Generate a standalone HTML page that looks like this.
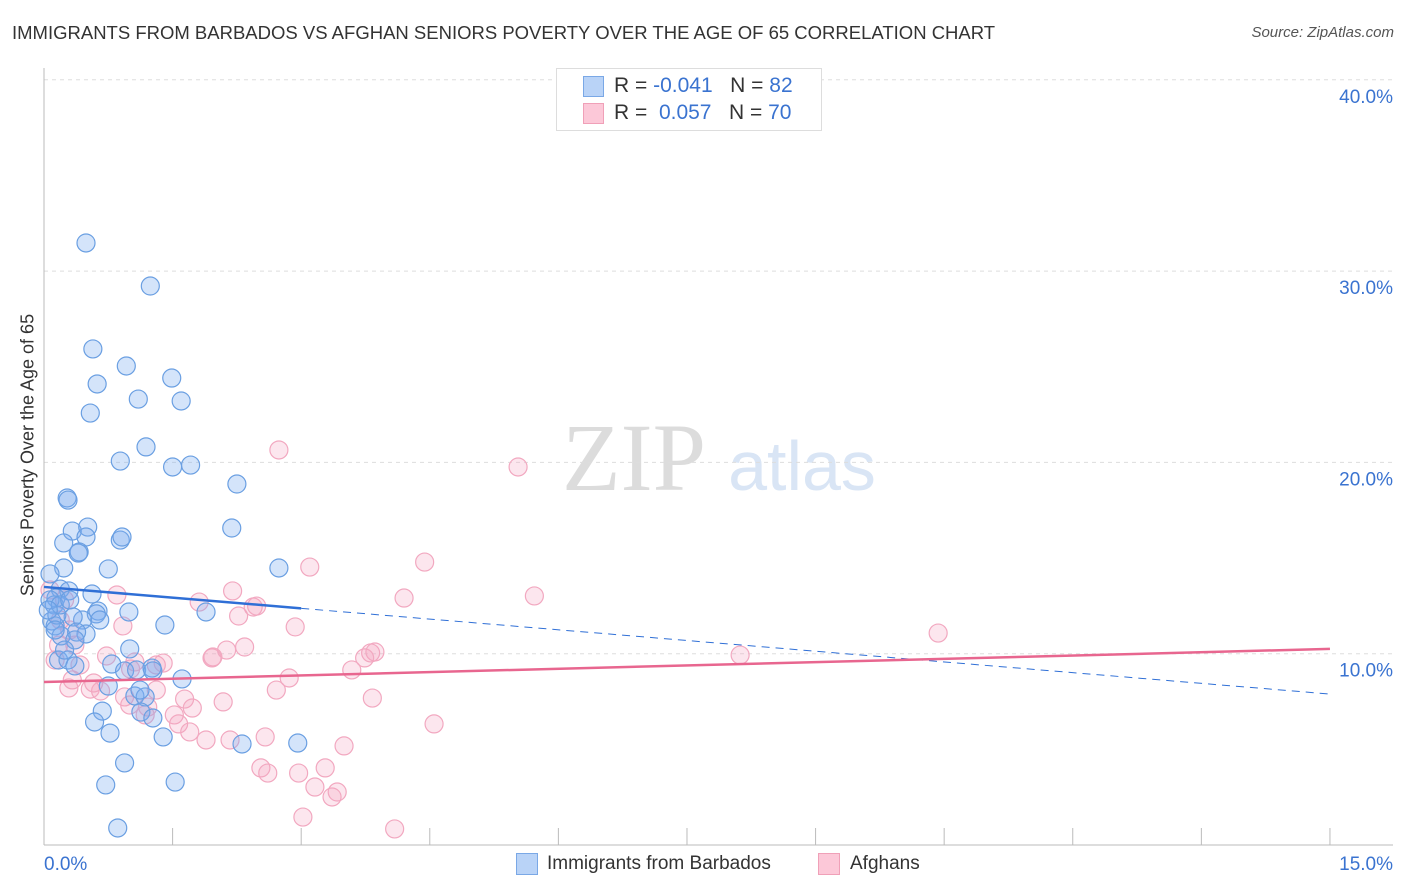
<!DOCTYPE html>
<html><head><meta charset="utf-8"><style>
body{margin:0;background:#fff;font-family:"Liberation Sans",sans-serif;}
#wrap{position:relative;width:1406px;height:892px;overflow:hidden;}
.t{position:absolute;white-space:nowrap;}
</style></head><body>
<div id="wrap">
<div class="t" style="left:12px;top:22px;font-size:18.5px;color:#333;">IMMIGRANTS FROM BARBADOS VS AFGHAN SENIORS POVERTY OVER THE AGE OF 65 CORRELATION CHART</div>
<div class="t" style="right:12px;top:24px;font-size:15px;color:#555;font-style:italic;">Source: ZipAtlas.com</div>
<div class="t" style="left:28px;top:455px;font-size:18px;color:#333;transform:translate(-50%,-50%) rotate(-90deg);">Seniors Poverty Over the Age of 65</div>
<svg id="svg" width="1406" height="892" style="position:absolute;left:0;top:0;">
<text x="634" y="490" font-family="Liberation Serif,serif" font-size="96" fill="#dcdcdc" text-anchor="middle">ZIP</text>
<text x="802" y="490" font-family="Liberation Sans,sans-serif" font-size="70" fill="#d9e5f5" text-anchor="middle">atlas</text>
</svg>
<div style="position:absolute;left:556px;top:68px;width:264px;height:61px;border:1px solid #ddd;background:#fff;">
<div style="position:absolute;left:26px;top:7px;width:19px;height:19px;background:#b9d3f7;border:1px solid #7aa8e6;"></div>
<div class="t" style="left:57px;top:5px;font-size:21px;color:#333;">R = <span style="color:#3a73d0">-0.041</span>&nbsp;&nbsp;&nbsp;N = <span style="color:#3a73d0">82</span></div>
<div style="position:absolute;left:26px;top:34px;width:19px;height:19px;background:#fcc8d8;border:1px solid #f0a0b8;"></div>
<div class="t" style="left:57px;top:32px;font-size:21px;color:#333;">R = &nbsp;<span style="color:#3a73d0">0.057</span>&nbsp;&nbsp;&nbsp;N = <span style="color:#3a73d0">70</span></div>
</div>
<div style="position:absolute;left:516px;top:853px;width:20px;height:20px;background:#b9d3f7;border:1px solid #7aa8e6;"></div>
<div class="t" style="left:547px;top:853px;font-size:19px;color:#333;">Immigrants from Barbados</div>
<div style="position:absolute;left:818px;top:853px;width:20px;height:20px;background:#fcc8d8;border:1px solid #f0a0b8;"></div>
<div class="t" style="left:850px;top:853px;font-size:19px;color:#333;">Afghans</div>
</div>
<script>
const blueX=[0.49,1.24,0.57,0.96,0.62,1.49,0.54,1.10,1.60,1.19,0.89,1.50,1.71,2.25,0.27,0.28,2.19,0.33,0.51,0.49,0.89,0.91,0.23,0.41,0.40,2.74,0.75,0.23,0.07,0.19,0.56,0.29,0.14,0.12,0.99,0.63,0.61,0.45,0.34,0.09,0.13,1.41,1.89,0.49,0.38,0.20,1.00,0.17,0.28,0.36,0.79,0.94,1.08,1.26,1.27,1.61,0.75,1.06,1.18,1.13,1.27,0.68,0.59,0.77,1.39,2.31,2.96,0.94,0.72,1.53,0.86,0.15,0.07,0.19,0.36,0.65,0.30,0.24,0.13,1.12,0.05];
const blueY=[31.47,29.22,25.93,25.04,24.10,24.41,22.58,23.31,23.21,20.81,20.07,19.76,19.86,18.87,18.14,18.03,16.57,16.41,16.62,16.10,15.94,16.10,15.79,15.32,15.26,14.48,14.43,14.48,14.17,13.38,13.12,13.28,12.91,12.55,12.18,12.23,12.08,11.76,11.92,11.71,11.45,11.50,12.18,11.03,11.13,10.93,10.25,9.67,9.67,9.36,9.46,9.10,9.15,9.25,9.10,8.68,8.31,7.79,7.74,6.95,6.64,7.00,6.43,5.85,5.65,5.28,5.33,4.29,3.14,3.29,0.89,12.02,12.81,12.55,10.72,11.76,12.81,10.19,11.24,8.10,12.28];
const pinkX=[2.74,5.53,4.44,3.10,5.72,4.20,2.20,0.85,1.81,2.44,2.48,2.27,10.43,0.92,2.93,0.36,0.17,0.73,2.34,2.13,1.97,1.96,3.81,3.86,3.74,8.12,3.59,1.01,0.42,1.06,1.31,1.39,0.33,0.58,2.86,2.71,1.31,0.29,0.54,0.66,0.94,1.64,1.00,1.21,2.09,3.83,1.73,1.52,1.18,1.57,4.55,1.70,1.89,2.17,2.58,3.50,2.53,2.61,3.28,2.97,3.16,3.42,3.36,3.02,4.09,0.13,0.19,0.07,0.24,0.30];
const pinkY=[20.65,19.76,14.79,14.53,13.02,12.91,13.28,13.07,12.70,12.44,12.49,11.97,11.08,11.45,11.40,10.45,10.45,9.88,10.35,10.19,9.83,9.78,10.04,10.09,9.78,9.93,9.15,9.20,9.41,9.57,9.41,9.51,8.63,8.47,8.73,8.10,8.10,8.21,8.15,8.05,7.74,7.63,7.32,7.21,7.48,7.68,7.16,6.80,6.80,6.33,6.33,5.91,5.49,5.49,5.65,5.18,4.03,3.76,4.03,3.76,3.03,2.77,2.51,1.46,0.84,9.67,11.76,13.33,12.81,11.24];
const blueTrend=[13.49,7.89];
const pinkTrend=[8.52,10.25];
const yTicks=[10,20,30,40];
const yTickLabels=["10.0%","20.0%","30.0%","40.0%"];
const xTickVals=[0,1.5,3,4.5,6,7.5,9,10.5,12,13.5,15];

const NS="http://www.w3.org/2000/svg";
const svg=document.getElementById('svg');
const X=v=>44+v*85.73;
const Y=v=>845-v*19.13;
function mk(tag,attrs){const e=document.createElementNS(NS,tag);for(const k in attrs)e.setAttribute(k,attrs[k]);svg.appendChild(e);return e;}

yTicks.forEach((v,i)=>{
  const g=mk('line',{x1:44,x2:1393,y1:Y(v),y2:Y(v),stroke:'#ddd','stroke-dasharray':'4,4'});
  
  
  const t=mk('text',{x:1393,y:Y(v)+23,'text-anchor':'end','font-size':19,fill:'#3a73d0','font-family':'Liberation Sans,sans-serif'});
  t.textContent=yTickLabels[i];
  
  
});
const ax=mk('line',{x1:44,x2:1393,y1:845,y2:845,stroke:'#bbb'});


const ay=mk('line',{x1:44,x2:44,y1:68,y2:845,stroke:'#bbb'});


xTickVals.forEach(v=>{
  const l=mk('line',{x1:X(v),x2:X(v),y1:828,y2:845,stroke:'#bbb'});
  
  
});
const xl0=mk('text',{x:44,y:870,'font-size':19,fill:'#3a73d0','font-family':'Liberation Sans,sans-serif'});
xl0.textContent='0.0%';


const xl1=mk('text',{x:1393,y:870,'text-anchor':'end','font-size':19,fill:'#3a73d0','font-family':'Liberation Sans,sans-serif'});
xl1.textContent='15.0%';



pinkX.forEach((x,i)=>{
  const c=mk('circle',{cx:X(x),cy:Y(pinkY[i]),r:9,fill:'rgba(245,165,195,0.28)',stroke:'#f2a8c0','stroke-width':1.2});
  
  
});
blueX.forEach((x,i)=>{
  const c=mk('circle',{cx:X(x),cy:Y(blueY[i]),r:9,fill:'rgba(120,172,238,0.32)',stroke:'#6a9fe2','stroke-width':1.2});
  
  
});
const bAt=x=>blueTrend[0]+(blueTrend[1]-blueTrend[0])*x/15;
const bs=mk('line',{x1:X(0),y1:Y(bAt(0)),x2:X(3),y2:Y(bAt(3)),stroke:'#2f6fd6','stroke-width':2.5});


const bd=mk('line',{x1:X(3),y1:Y(bAt(3)),x2:X(15),y2:Y(bAt(15)),stroke:'#2f6fd6','stroke-width':1,'stroke-dasharray':'8,6'});


const pl=mk('line',{x1:X(0),y1:Y(pinkTrend[0]),x2:X(15),y2:Y(pinkTrend[1]),stroke:'#e8668f','stroke-width':2.5});


</script>
</body></html>
